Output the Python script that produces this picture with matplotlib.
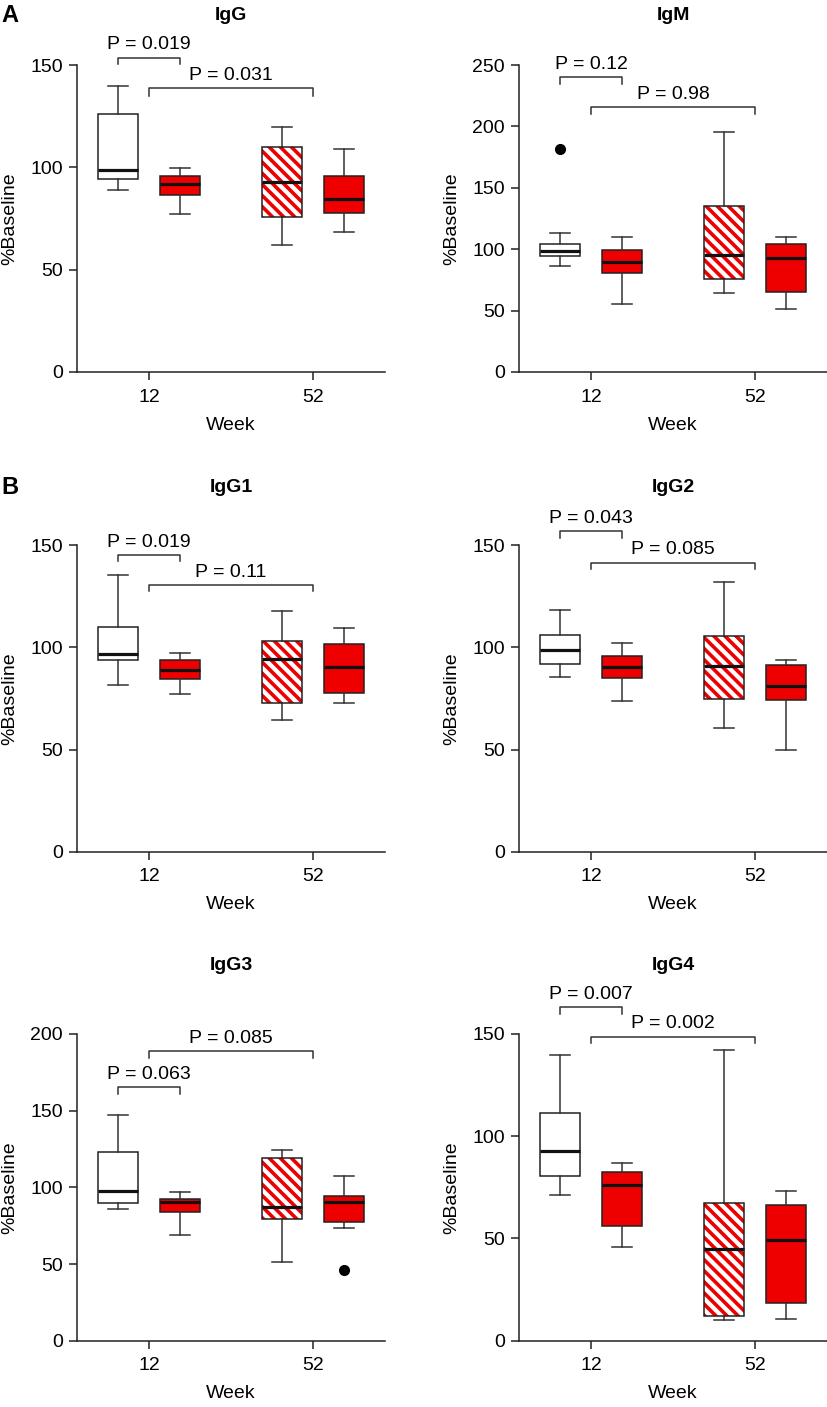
import matplotlib
matplotlib.use("Agg")
import matplotlib.pyplot as plt
from matplotlib.patches import PathPatch

plt.rcParams['font.family'] = ['Liberation Sans', 'DejaVu Sans']
plt.rcParams['hatch.linewidth'] = 2.6

# ---------------- data: five-number summaries [whislo, q1, median, q3, whishi]
# box order: week 12 white, week 12 red, week 52 hatched, week 52 red
weeks = ["12", "52"]
panels = ["IgG", "IgM", "IgG1", "IgG2", "IgG3", "IgG4"]

igg = [[88.9, 94.2, 98.8, 126.0, 139.6],
       [77.4, 86.4, 92.1, 95.9, 99.6],
       [62.0, 75.8, 92.9, 109.9, 119.7],
       [68.6, 77.8, 84.6, 96.0, 108.9]]
igm = [[86.7, 94.8, 98.6, 104.3, 112.8],
       [55.2, 80.7, 89.9, 99.7, 110.0],
       [64.1, 75.8, 95.1, 135.3, 195.4],
       [51.6, 65.5, 92.7, 104.3, 109.8]]
igg1 = [[81.8, 93.8, 96.8, 109.8, 135.6],
        [77.2, 84.4, 89.1, 93.8, 97.3],
        [64.5, 73.0, 94.3, 103.1, 118.0],
        [72.8, 77.5, 90.4, 101.5, 109.5]]
igg2 = [[85.5, 92.0, 98.9, 106.2, 118.5],
        [73.8, 84.9, 90.4, 96.0, 102.3],
        [60.7, 74.7, 90.7, 105.4, 132.2],
        [49.8, 74.4, 81.3, 91.6, 93.8]]
igg3 = [[85.7, 90.0, 97.8, 123.3, 147.0],
        [69.1, 84.1, 90.4, 92.4, 96.7],
        [51.5, 79.1, 87.2, 119.3, 124.3],
        [73.7, 77.4, 90.7, 94.1, 107.2]]
igg4 = [[71.3, 80.6, 92.9, 111.3, 139.7],
        [45.9, 56.3, 76.1, 82.7, 87.0],
        [10.0, 12.2, 45.0, 67.4, 142.2],
        [10.6, 18.4, 49.1, 66.4, 73.1]]

# outliers: (box index, value)
igm_fliers = {0: [181.8]}
igg3_fliers = {3: [46.3]}

# y-axis tops
ymax = [150, 250, 150, 150, 200, 150]
ystep = 50

# p-values: [bracket between the two week-12 boxes, bracket week 12 -> week 52]
pvals = [["P = 0.019", "P = 0.031"],
         ["P = 0.12", "P = 0.98"],
         ["P = 0.019", "P = 0.11"],
         ["P = 0.043", "P = 0.085"],
         ["P = 0.063", "P = 0.085"],
         ["P = 0.007", "P = 0.002"]]
# bracket heights (top, leg end) in data units
br_heights = [[(153.6, 150.3), (138.6, 135.0)],
              [(240.0, 234.5), (215.5, 210.0)],
              [(145.4, 142.3), (130.7, 127.5)],
              [(156.8, 153.6), (141.5, 138.2)],
              [(165.2, 160.7), (188.7, 184.3)],
              [(163.2, 160.0), (148.7, 145.4)]]

all_stats = [igg, igm, igg1, igg2, igg3, igg4]
all_fliers = [{}, igm_fliers, {}, {}, igg3_fliers, {}]

RED = '#ee0000'
EDGE = '#222222'

W, H = 827, 1407
fig = plt.figure(figsize=(W / 100, H / 100), dpi=100)

col_left = [77, 519]
ax_w = 308
rows = [(65, 372), (545.3, 851.7), (1034, 1340.7)]
title_y = [15, 488, 965]

off = 0.189
positions = [1 - off, 1 + off, 2 - off, 2 + off]
faces = ['white', RED, 'white', RED]

for i, name in enumerate(panels):
    r, c = divmod(i, 2)
    top, bot = rows[r]
    left = col_left[c]
    ax = fig.add_axes([left / W, 1 - bot / H, ax_w / W, (bot - top) / H])

    stats = []
    for j, s in enumerate(all_stats[i]):
        stats.append(dict(whislo=s[0], q1=s[1], med=s[2], q3=s[3], whishi=s[4],
                          fliers=all_fliers[i].get(j, [])))
    bp = ax.bxp(stats, positions=positions, widths=0.238, capwidths=0.12,
                patch_artist=True, showfliers=True,
                boxprops=dict(edgecolor=EDGE, linewidth=1.1),
                medianprops=dict(color='#111111', linewidth=2.3, solid_capstyle='butt'),
                whiskerprops=dict(color='#333333', linewidth=1.1),
                capprops=dict(color='#333333', linewidth=1.1),
                flierprops=dict(marker='o', markerfacecolor='black',
                                markeredgecolor='black', markersize=7))
    for j, box in enumerate(bp['boxes']):
        box.set_facecolor(faces[j])
        if j == 2:
            box.set_edgecolor(RED)
            box.set_hatch('\\\\\\')
            box.set_linewidth(0)
            outline = PathPatch(box.get_path(), transform=box.get_transform(),
                                facecolor='none', edgecolor=EDGE, linewidth=1.1, zorder=box.get_zorder() + 0.1)
            ax.add_patch(outline)

    ax.set_xlim(1 - 72 / 164, 2 + 72 / 164)
    ax.set_ylim(0, ymax[i])
    ax.set_yticks(range(0, ymax[i] + 1, ystep))
    ax.set_xticks([1, 2])
    ax.set_xticklabels(weeks)
    for sp in ['top', 'right']:
        ax.spines[sp].set_visible(False)
    for sp in ['left', 'bottom']:
        ax.spines[sp].set_linewidth(1.1)
        ax.spines[sp].set_color('#222222')
    ax.tick_params(axis='both', direction='out', length=6, width=1.1, color='#222222',
                   labelsize=14)
    ax.tick_params(axis='y', pad=4)
    ax.tick_params(axis='x', pad=6)

    ax.set_ylabel('%Baseline', fontsize=14)
    ax.yaxis.set_label_coords(-67 / ax_w, 0.5)
    ax.yaxis.label.set_verticalalignment('center')
    ax.set_xlabel('Week', fontsize=14)
    ax.xaxis.set_label_coords(0.5, -53 / (bot - top))
    ax.xaxis.label.set_verticalalignment('center')

    # significance brackets
    spans = [(positions[0], positions[1]), (1, 2)]
    for k in range(2):
        x1, x2 = spans[k]
        yt, yl = br_heights[i][k]
        ax.plot([x1, x1, x2, x2], [yl, yt, yt, yl], color='#333333', linewidth=1.1,
                clip_on=False)
        ax.annotate(pvals[i][k], xy=((x1 + x2) / 2, yt), xytext=(0, 3),
                    textcoords='offset points', ha='center', va='bottom', fontsize=14,
                    annotation_clip=False)

    fig.text((left + ax_w / 2) / W, 1 - title_y[r] / H, name, ha='center', va='center',
             fontsize=14, fontweight='bold')

fig.text(1 / W, 1 - 15 / H, 'A', ha='left', va='center', fontsize=17, fontweight='bold')
fig.text(1 / W, 1 - 487 / H, 'B', ha='left', va='center', fontsize=17, fontweight='bold')

fig.savefig('out.png', dpi=100)
